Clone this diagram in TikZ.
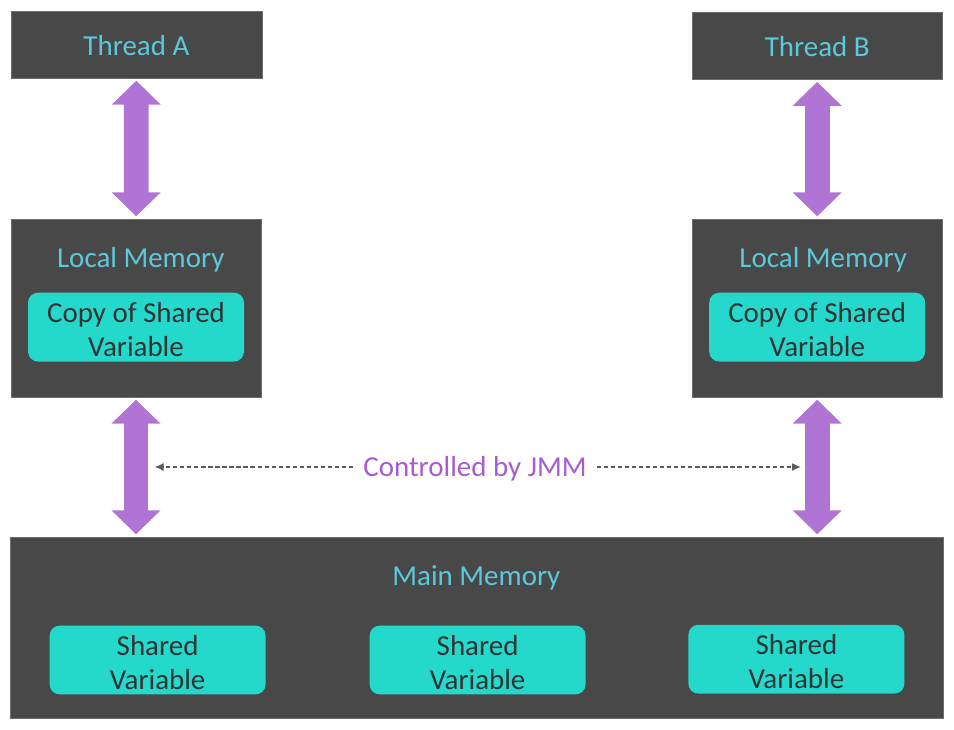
\documentclass[tikz,border=0pt]{standalone}
\usepackage{fontspec}
\setmainfont{Carlito}
\usetikzlibrary{positioning,arrows.meta}

\definecolor{boxgray}{HTML}{484848}
\definecolor{titlecyan}{HTML}{5CC8DC}
\definecolor{varteal}{HTML}{25D8CC}
\definecolor{vartext}{HTML}{333333}
\definecolor{arrowpurple}{HTML}{B074D5}
\definecolor{jmmpurple}{HTML}{A65CD2}
\definecolor{dashgray}{HTML}{5A5A5A}

\newcommand{\vartxt}[1]{\parbox{5.4cm}{\centering\vspace*{0.14cm}#1}}

\begin{document}
\begin{tikzpicture}
	\tikzstyle{unit}=[rectangle, fill=boxgray, draw=boxgray!80!white, inner sep=0pt]
	\tikzstyle{title}=[text=titlecyan, font=\fontsize{20.6}{24.2}\selectfont]
	\tikzstyle{var}=[rectangle, rounded corners=0.25cm, fill=varteal, text=vartext, align=center,
		minimum width=5.4cm, minimum height=1.72cm, inner sep=0pt, font=\fontsize{20.6}{24.2}\selectfont]
	\tikzstyle{bigarrow}=[draw=arrowpurple, line width=0.62cm, shorten <=0.06cm, shorten >=0.06cm,
		{Triangle[width=1.19cm,length=0.6cm]}-{Triangle[width=1.19cm,length=0.6cm]}]
	\tikzstyle{dashline}=[draw=dashgray, thick, dash pattern=on 3pt off 2pt, -{Latex[length=2.2mm,width=2mm]}]
	\useasboundingbox (0,0) rectangle (23.85,-18.25);

	% threads
	\node[unit, minimum width=6.28cm, minimum height=1.68cm] (ta) at (3.41,-1.11) {};
	\node[title] at ([yshift=-0.03cm]ta) {Thread A};
	\node[unit, minimum width=6.25cm, minimum height=1.68cm] (tb) at (20.43,-1.14) {};
	\node[title] at ([yshift=-0.03cm]tb) {Thread B};

	% local memories
	\node[unit, minimum width=6.25cm, minimum height=4.45cm] (la) at (3.40,-7.70) {};
	\node[title] (lat) [below=1.02cm of la.north, xshift=0.12cm, anchor=center] {Local Memory};
	\node[var] (ca) [below=2.71cm of la.north, anchor=center] {\vartxt{Copy of Shared\\Variable}};
	\node[unit, minimum width=6.25cm, minimum height=4.45cm] (lb) at (20.43,-7.70) {};
	\node[title] (lbt) [below=1.02cm of lb.north, xshift=0.15cm, anchor=center] {Local Memory};
	\node[var] (cb) [below=2.71cm of lb.north, anchor=center] {\vartxt{Copy of Shared\\Variable}};

	% main memory
	\node[unit, minimum width=23.33cm, minimum height=4.53cm] (mm) at (11.91,-15.69) {};
	\node[title] (mmt) [below=1.03cm of mm.north, anchor=center] {Main Memory};
	\node[var] (s1) at (3.94,-16.50) {\vartxt{Shared\\Variable}};
	\node[var] (s2) at (11.94,-16.50) {\vartxt{Shared\\Variable}};
	\node[var] (s3) at (19.91,-16.48) {\vartxt{Shared\\Variable}};

	\path (ta) edge [bigarrow] (la)
		(tb) edge [bigarrow] (lb)
		(la) edge [bigarrow] (la |- mm.north)
		(lb) edge [bigarrow] (lb |- mm.north);

	% controlled by JMM
	\node[text=jmmpurple, font=\fontsize{20.6}{24.2}\selectfont, inner sep=0.25cm] (jmm) at (11.875,-11.72) {Controlled by JMM};
	\coordinate (jl) at (3.87,-11.675);
	\coordinate (jr) at (20.02,-11.675);
	\draw[dashline] (jmm.west |- jl) -- (jl);
	\draw[dashline] (jmm.east |- jr) -- (jr);
\end{tikzpicture}
\end{document}
